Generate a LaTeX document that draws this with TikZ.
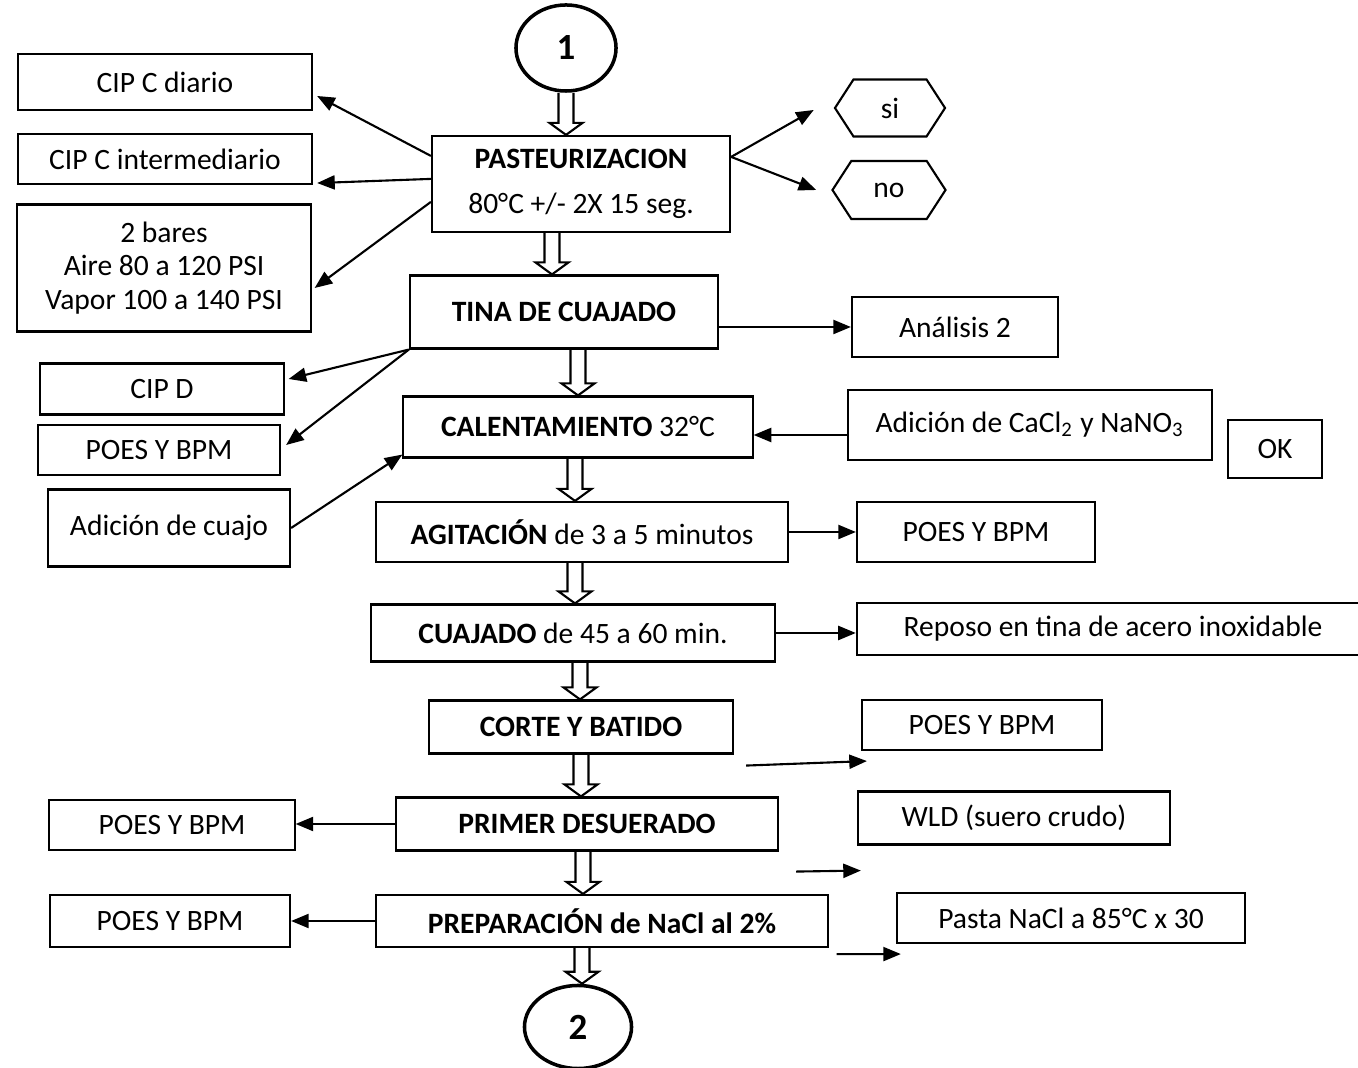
\documentclass[tikz,border=0pt]{standalone}
\usepackage{fontspec}
\setmainfont{Carlito}
\usetikzlibrary{shapes.geometric,shapes.symbols,arrows.meta,calc}

% hollow arrow between two stages of the main line
\newcommand{\blockarrow}[3][0]{%
  \path let \p1=(#2.south), \p2=($(#3.north)+(#1,0)$) in
    [draw, line width=0.6pt]
    (\x2-0.075cm,\y1) -- (\x2-0.075cm,\y2+0.12cm) -- (\x2-0.165cm,\y2+0.12cm)
    -- (\x2,\y2) -- (\x2+0.165cm,\y2+0.12cm) -- (\x2+0.075cm,\y2+0.12cm)
    -- (\x2+0.075cm,\y1);}

\begin{document}
\begin{tikzpicture}[x=0.01cm, y=-0.01cm,
    box/.style={rectangle, draw, line width=0.6pt, align=center, inner sep=1pt},
    hexa/.style={signal, signal to=west and east, signal pointer angle=114, draw, line width=0.6pt, inner sep=0pt},
    circ/.style={ellipse, draw, line width=1pt, font=\fontsize{10.5}{12}\selectfont\bfseries},
    >={Triangle[length=5pt,width=4pt]}, line width=0.6pt,
    font=\fontsize{8.4}{9.6}\selectfont
]
    \useasboundingbox (0,0) rectangle (1358,1068);

    % Main line
    \node[circ, minimum width=1.0cm, minimum height=0.86cm] (c1) at (566,48) {1};
    \node[box, minimum width=2.98cm, minimum height=0.96cm] (past) at (581,184) {\textbf{PASTEURIZACION}\\[3pt]80°C +/- 2X 15 seg.};
    \node[box, minimum width=3.08cm, minimum height=0.73cm] (tina) at (564,312) {\textbf{TINA DE CUAJADO}};
    \node[box, minimum width=3.49cm, minimum height=0.61cm] (calent) at (578,427) {\textbf{CALENTAMIENTO} 32°C};
    \node[box, minimum width=4.11cm, minimum height=0.60cm] (agit) at (582,532) {\textbf{AGITACIÓN} de 3 a 5 minutos};
    \node[box, minimum width=4.04cm, minimum height=0.57cm] (cuaj) at (573,633) {\textbf{CUAJADO} de 45 a 60 min.};
    \node[box, minimum width=3.04cm, minimum height=0.53cm] (corte) at (581,727) {\textbf{CORTE Y BATIDO}};
    \node[box, minimum width=3.82cm, minimum height=0.53cm] (primer) at (587,824) {\textbf{PRIMER DESUERADO}};
    \node[box, minimum width=4.51cm, minimum height=0.52cm] (prep) at (602,921) {\textbf{PREPARACIÓN de NaCl al 2\%}};
    \node[circ, minimum width=1.07cm, minimum height=0.83cm] (c2) at (578,1027) {2};

    \blockarrow[-15]{c1}{past}
    \blockarrow[-12]{past}{tina}
    \blockarrow{tina}{calent}
    \blockarrow[-7]{calent}{agit}
    \blockarrow[2]{agit}{cuaj}
    \blockarrow[-1]{cuaj}{corte}
    \blockarrow[-6]{corte}{primer}
    \blockarrow[-19]{primer}{prep}
    \blockarrow[4]{prep}{c2}

    % Left side
    \node[box, minimum width=2.94cm, minimum height=0.56cm] (cipa) at (165,82) {CIP C diario};
    \node[box, minimum width=2.94cm, minimum height=0.50cm] (cipb) at (165,159) {CIP C intermediario};
    \node[box, minimum width=2.93cm, minimum height=1.27cm] (bares) at (164,268) {2 bares\\Aire 80 a 120 PSI\\Vapor 100 a 140 PSI};
    \node[box, minimum width=2.43cm, minimum height=0.51cm] (cipd) at (162,389) {CIP D};
    \node[box, minimum width=2.42cm, minimum height=0.50cm] (poesa) at (159,450) {POES Y BPM};
    \node[box, minimum width=2.42cm, minimum height=0.77cm] (cuajo) at (169,528) {Adición de cuajo};
    \node[box, minimum width=2.45cm, minimum height=0.50cm] (poesd) at (172,825) {POES Y BPM};
    \node[box, minimum width=2.40cm, minimum height=0.52cm] (poese) at (170,921) {POES Y BPM};

    \draw[->] ($(past.north west)+(0,21)$) -- ($(cipa.east)+(4,14)$);
    \draw[->] ($(past.north west)+(0,44)$) -- ($(cipb.south east)+(4,-2)$);
    \draw[->] ($(past.north west)+(0,67)$) -- ($(bares.east)+(3,20)$);
    \draw[->] (tina.south west) -- ($(cipd.east)+(4,-10)$);
    \draw[->] (tina.south west) -- ($(poesa.east)+(5,-5)$);
    \draw[->] (cuajo.east) -- ($(calent.south west)+(0,-4)$);
    \draw[->] (primer.west) -- (primer.west -| poesd.east);
    \draw[->] (prep.west) -- (prep.west -| poese.east);

    % Right side
    \node[hexa, minimum width=1.10cm, minimum height=0.57cm] (si) at (890,108) {si};
    \node[hexa, minimum width=1.13cm, minimum height=0.58cm] (no) at (889,190) {no};
    \node[box, minimum width=2.06cm, minimum height=0.60cm] (anal) at (955,327) {Análisis 2};
    \node[box, minimum width=3.64cm, minimum height=0.70cm] (cacl) at (1030,425) {Adición de CaCl\textsubscript{2} y NaNO\textsubscript{3}};
    \node[box, minimum width=0.94cm, minimum height=0.58cm] (ok) at (1275,449) {OK};
    \node[box, minimum width=2.38cm, minimum height=0.60cm] (poesb) at (976,532) {POES Y BPM};
    \node[box, minimum width=5.12cm, minimum height=0.52cm] (repo) at (1113,629) {Reposo en tina de acero inoxidable};
    \node[box, minimum width=2.40cm, minimum height=0.50cm] (poesc) at (982,725) {POES Y BPM};
    \node[box, minimum width=3.12cm, minimum height=0.53cm] (wld) at (1014,818) {WLD (suero crudo)};
    \node[box, minimum width=3.48cm, minimum height=0.50cm] (pasta) at (1071,918) {Pasta NaCl a 85°C x 30};

    \draw[->] ($(past.north east)+(0,22)$) -- ($(si.west)+(-20,2)$);
    \draw[->] ($(past.north east)+(0,22)$) -- ($(no.west)+(-15,0)$);
    \draw[->] (anal.west -| tina.east) -- (anal.west);
    \draw[->] ($(cacl.west)+(0,10)$) coordinate (cw) -- (cw -| calent.east);
    \draw[->] (agit.east) -- (poesb.west);
    \draw[->] (cuaj.east) -- (cuaj.east -| repo.west);
    \draw[->] ($(corte.south east)+(12,11)$) -- ($(poesc.south west)+(6,10)$);
    \draw[->] ($(primer.south east)+(17,20)$) -- ($(wld.south west)+(4,25)$);
    \draw[->] ($(prep.south east)+(8,6)$) -- ($(pasta.south west)+(5,10)$);
\end{tikzpicture}
\end{document}
